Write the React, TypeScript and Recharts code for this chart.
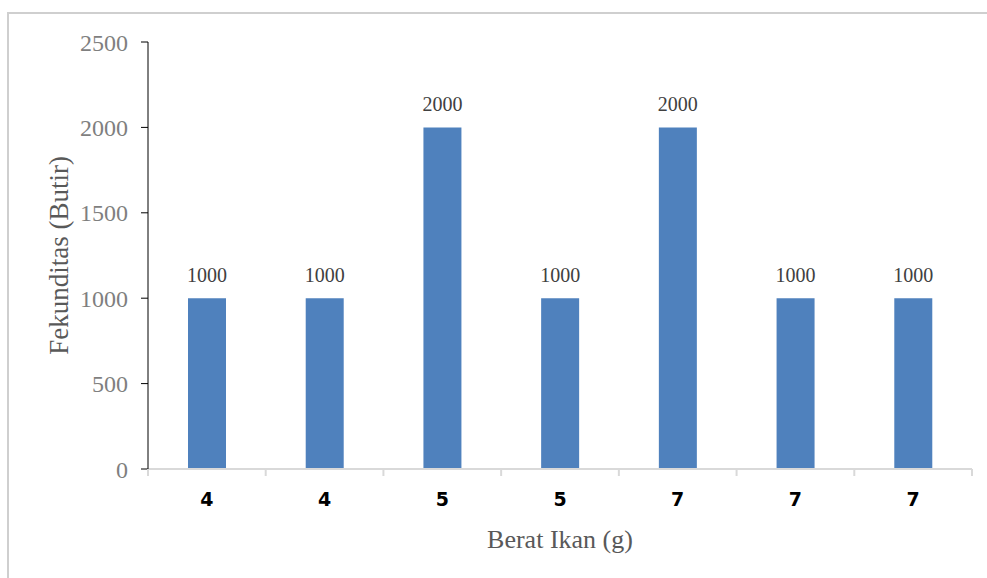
import React from "react";
import { BarChart, Bar, XAxis, YAxis, LabelList } from "recharts";

const categories = ["4", "4", "5", "5", "7", "7", "7"];
const fekunditas = [1000, 1000, 2000, 1000, 2000, 1000, 1000];
const yTicks = [0, 500, 1000, 1500, 2000, 2500];

const data = categories.map((c, i) => ({ name: c, value: fekunditas[i] }));

const serif = "'Liberation Serif', 'Times New Roman', serif";

const XTick = (props: any) => {
  const { x, y, payload, index, visibleTicksCount } = props;
  const half = payload && payload.offset ? payload.offset : 0;
  const y0 = y - 8;
  return (
    <g>
      <line x1={x - half} y1={y0} x2={x - half} y2={y0 + 7} stroke="#d9d9d9" strokeWidth={2} />
      {index === visibleTicksCount - 1 && (
        <line x1={x + half} y1={y0} x2={x + half} y2={y0 + 7} stroke="#d9d9d9" strokeWidth={2} />
      )}
      <text
        x={x}
        y={y0 + 31}
        textAnchor="middle"
        dominantBaseline="middle"
        fontFamily="'DejaVu Sans', sans-serif"
        fontWeight="bold"
        fontSize={19}
        fill="#000"
      >
        {payload.value}
      </text>
    </g>
  );
};

export default function App() {
  return (
    <div style={{ position: "absolute", left: 0, top: 0, width: 987, height: 578, background: "#fff" }}>
      <div
        style={{
          position: "absolute",
          left: 7,
          top: 12,
          width: 990,
          height: 580,
          borderTop: "2px solid #cfcfcf",
          borderLeft: "2px solid #cfcfcf",
          boxSizing: "border-box",
        }}
      />
      <div style={{ position: "absolute", left: 0, top: 0 }}>
        <BarChart
          width={987}
          height={578}
          data={data}
          margin={{ top: 42, right: 15, left: 0, bottom: 0 }}
          barCategoryGap={0}
        >
          <XAxis
            dataKey="name"
            height={109}
            axisLine={{ stroke: "#d9d9d9", strokeWidth: 2 }}
            tickLine={false}
            tick={<XTick />}
            interval={0}
            label={{
              value: "Berat Ikan (g)",
              position: "insideBottom",
              offset: 30,
              fill: "#595959",
              fontSize: 26,
              fontFamily: serif,
            }}
          />
          <YAxis
            width={148}
            domain={[0, 2500]}
            ticks={yTicks}
            interval={0}
            axisLine={{ stroke: "#000", strokeWidth: 1 }}
            tickLine={{ stroke: "#000" }}
            tickSize={7}
            tickMargin={13}
            tick={{ fill: "#7f7f7f", fontSize: 24, fontFamily: serif }}
            label={{
              value: "Fekunditas (Butir)",
              angle: -90,
              position: "insideLeft",
              offset: 0,
              dx: 58,
              fill: "#595959",
              fontSize: 27,
              fontFamily: serif,
              style: { textAnchor: "middle" },
            }}
          />
          <Bar dataKey="value" fill="#4f81bd" barSize={38} isAnimationActive={false}>
            <LabelList
              dataKey="value"
              position="top"
              offset={16}
              fill="#404040"
              fontSize={20}
              fontFamily={serif}
            />
          </Bar>
        </BarChart>
      </div>
    </div>
  );
}
